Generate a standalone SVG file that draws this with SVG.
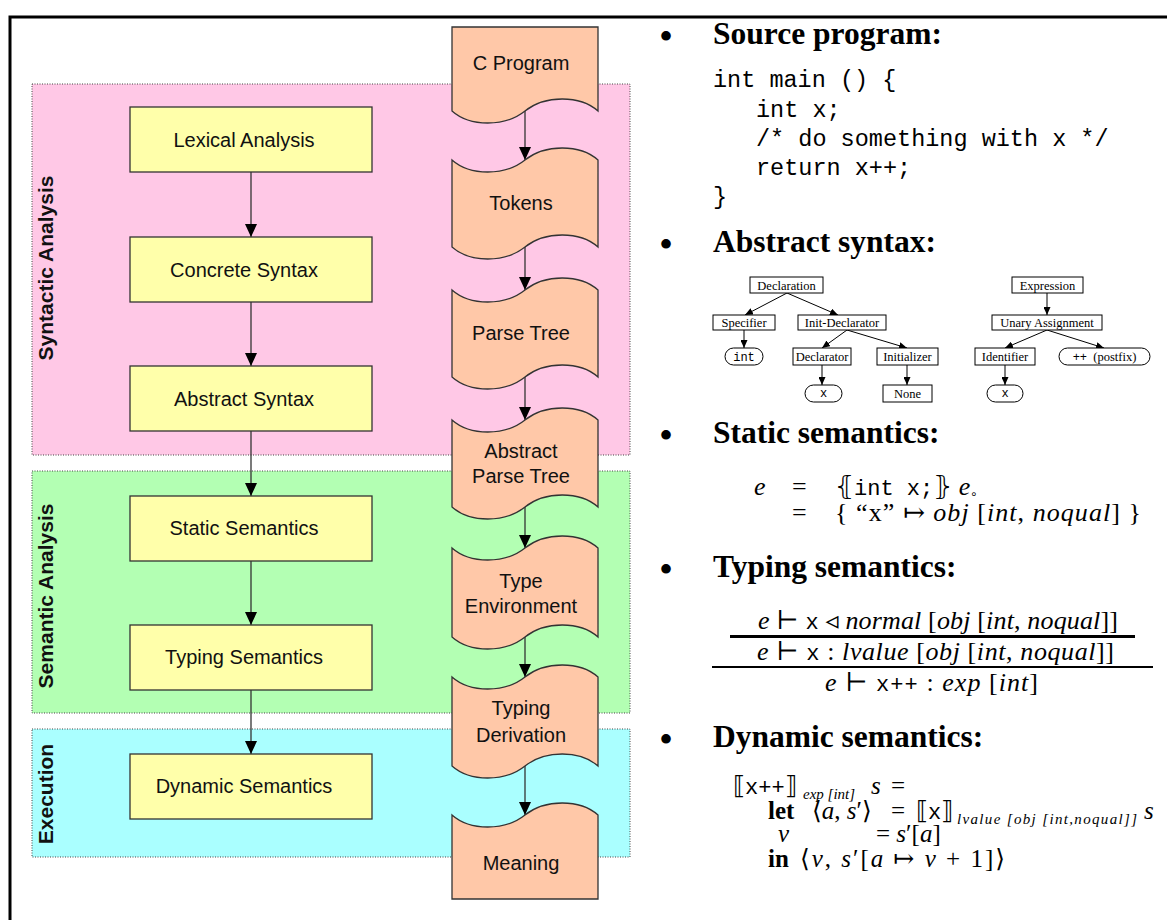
<svg xmlns="http://www.w3.org/2000/svg" width="1167" height="920" viewBox="0 0 1167 920">
<style>
.region{stroke:#444;stroke-width:1;stroke-dasharray:1 1.5}
.box{fill:#FFFFAA;stroke:#333;stroke-width:1.3}
.tape{fill:#FFC8A8;stroke:#333;stroke-width:1.3}
.lbl{font-family:"Liberation Sans",Arial,sans-serif;font-size:20px;text-anchor:middle;fill:#111}
.vlbl{font-family:"Liberation Sans",Arial,sans-serif;font-size:21px;font-weight:bold;text-anchor:middle;fill:#111}
.conn{stroke:#333;stroke-width:1.3;fill:none;marker-end:url(#ah)}
.head{font-family:"Liberation Serif","Times New Roman",serif;font-weight:bold;font-size:31.5px}
.bul{font-family:"Liberation Serif","Times New Roman",serif;font-size:40px;text-anchor:middle}
.code{font-family:"Liberation Mono","Courier New",monospace;font-size:23.5px}
.tn{fill:#fff;stroke:#000;stroke-width:1}
.tt{font-family:"Liberation Serif","Times New Roman",serif;font-size:12.5px;text-anchor:middle}
.tm{font-family:"Liberation Mono","Courier New",monospace;font-size:12px;text-anchor:middle}
.tconn{stroke:#000;stroke-width:1;fill:none;marker-end:url(#ah2)}
.m{font-family:"Liberation Serif","DejaVu Serif",serif;font-size:26px}
.d{font-family:"Liberation Serif","DejaVu Serif",serif;font-size:25px}
.i{font-style:italic}
.mono{font-family:"Liberation Mono","DejaVu Sans Mono",monospace;font-size:22px}
.b{font-weight:bold}
.sub{font-family:"Liberation Serif","DejaVu Serif",serif;font-size:15px;font-style:italic}
</style>
<defs>
<marker id="ah" viewBox="0 -6 13 12" refX="13" refY="0" markerWidth="13" markerHeight="12" markerUnits="userSpaceOnUse" orient="auto"><path d="M0,-6 L13,0 L0,6 Z" fill="#000"/></marker>
<marker id="ah2" viewBox="0 -3.5 8 7" refX="8" refY="0" markerWidth="8" markerHeight="7" markerUnits="userSpaceOnUse" orient="auto"><path d="M0,-3.5 L8,0 L0,3.5 Z" fill="#000"/></marker>
</defs>
<rect width="1167" height="920" fill="#fff"/>
<path d="M10,920 V17 H1167" stroke="#000" stroke-width="3" fill="none"/>

<g id="regions">
<rect class="region" x="32" y="84" width="598" height="371" fill="#FFC8E6"/>
<rect class="region" x="32" y="471" width="598" height="242" fill="#B3FFB3"/>
<rect class="region" x="32" y="729" width="598" height="128" fill="#AAFFFF"/>
<text class="vlbl" transform="translate(53,268) rotate(-90)">Syntactic Analysis</text>
<text class="vlbl" transform="translate(53,596) rotate(-90)">Semantic Analysis</text>
<text class="vlbl" transform="translate(53,794) rotate(-90)">Execution</text>
</g>

<g id="connectors">
<line class="conn" x1="251" y1="172" x2="251" y2="237"/>
<line class="conn" x1="251" y1="302" x2="251" y2="366"/>
<line class="conn" x1="251" y1="431" x2="251" y2="496"/>
<line class="conn" x1="251" y1="561" x2="251" y2="625"/>
<line class="conn" x1="251" y1="690" x2="251" y2="754"/>
<line class="conn" x1="525" y1="111" x2="525" y2="160"/>
<line class="conn" x1="525" y1="247" x2="525" y2="290"/>
<line class="conn" x1="525" y1="377" x2="525" y2="420"/>
<line class="conn" x1="525" y1="507" x2="525" y2="548"/>
<line class="conn" x1="525" y1="637" x2="525" y2="677"/>
<line class="conn" x1="525" y1="766" x2="525" y2="815"/>
</g>

<g id="lexical"><rect class="box" x="130" y="107" width="242" height="65"/><text class="lbl" x="244" y="147">Lexical Analysis</text></g>
<g id="concrete"><rect class="box" x="130" y="237" width="242" height="65"/><text class="lbl" x="244" y="277">Concrete Syntax</text></g>
<g id="abstract"><rect class="box" x="130" y="366" width="242" height="65"/><text class="lbl" x="244" y="406">Abstract Syntax</text></g>
<g id="static"><rect class="box" x="130" y="496" width="242" height="65"/><text class="lbl" x="244" y="535">Static Semantics</text></g>
<g id="typing"><rect class="box" x="130" y="625" width="242" height="65"/><text class="lbl" x="244" y="664">Typing Semantics</text></g>
<g id="dynamic"><rect class="box" x="130" y="754" width="242" height="65"/><text class="lbl" x="244" y="793">Dynamic Semantics</text></g>

<g id="cprogram"><path class="tape" d="M452,27 H598 V111 C580,95 545,95 525,111 S470,127 452,111 Z"/><text class="lbl" x="521" y="70">C Program</text></g>
<g id="tokens"><path class="tape" d="M452,160 C470,176 505,176 525,160 S580,144 598,160 L598,247 C580,231 545,231 525,247 S470,263 452,247 Z"/><text class="lbl" x="521" y="210">Tokens</text></g>
<g id="parsetree"><path class="tape" d="M452,290 C470,306 505,306 525,290 S580,274 598,290 L598,377 C580,361 545,361 525,377 S470,393 452,377 Z"/><text class="lbl" x="521" y="340">Parse Tree</text></g>
<g id="apt"><path class="tape" d="M452,420 C470,436 505,436 525,420 S580,404 598,420 L598,507 C580,491 545,491 525,507 S470,523 452,507 Z"/><text class="lbl" x="521" y="458">Abstract</text><text class="lbl" x="521" y="483">Parse Tree</text></g>
<g id="typeenv"><path class="tape" d="M452,548 C470,564 505,564 525,548 S580,532 598,548 L598,637 C580,621 545,621 525,637 S470,653 452,637 Z"/><text class="lbl" x="521" y="588">Type</text><text class="lbl" x="521" y="613">Environment</text></g>
<g id="typingderiv"><path class="tape" d="M452,677 C470,693 505,693 525,677 S580,661 598,677 L598,766 C580,750 545,750 525,766 S470,782 452,766 Z"/><text class="lbl" x="521" y="715">Typing</text><text class="lbl" x="521" y="742">Derivation</text></g>
<g id="meaning"><path class="tape" d="M452,815 C470,831 505,831 525,815 S580,799 598,815 V899 H452 Z"/><text class="lbl" x="521" y="870">Meaning</text></g>

<g id="source">
<text class="bul" x="666" y="50">•</text><text class="head" x="713" y="44">Source program:</text>
<text class="code" x="713" y="87">int main () {</text>
<text class="code" x="756" y="117">int x;</text>
<text class="code" x="756" y="146">/* do something with x */</text>
<text class="code" x="756" y="175">return x++;</text>
<text class="code" x="713" y="204">}</text>
</g>

<g id="abstractsyntax">
<text class="bul" x="666" y="258">•</text><text class="head" x="713" y="252">Abstract syntax:</text>
<g class="tconns">
<line class="tconn" x1="787" y1="293" x2="745" y2="315"/>
<line class="tconn" x1="787" y1="293" x2="838" y2="315"/>
<line class="tconn" x1="744" y1="330" x2="744" y2="348"/>
<line class="tconn" x1="847" y1="330" x2="822" y2="348"/>
<line class="tconn" x1="847" y1="330" x2="907" y2="348"/>
<line class="tconn" x1="822" y1="365" x2="822" y2="385"/>
<line class="tconn" x1="907" y1="365" x2="907" y2="385"/>
<line class="tconn" x1="1047" y1="293" x2="1047" y2="315"/>
<line class="tconn" x1="1047" y1="330" x2="1005" y2="348"/>
<line class="tconn" x1="1047" y1="330" x2="1104" y2="348"/>
<line class="tconn" x1="1005" y1="365" x2="1005" y2="385"/>
</g>
<g id="t-declaration"><rect class="tn" x="750" y="277" width="73" height="16"/><text class="tt" x="786.5" y="289.5">Declaration</text></g>
<g id="t-specifier"><rect class="tn" x="713" y="315" width="62" height="15"/><text class="tt" x="744" y="327">Specifier</text></g>
<g id="t-initdecl"><rect class="tn" x="798" y="315" width="88" height="15"/><text class="tt" x="842" y="327">Init-Declarator</text></g>
<g id="t-int"><rect class="tn" x="725" y="348" width="38" height="17" rx="8.5"/><text class="tm" x="744" y="361">int</text></g>
<g id="t-declarator"><rect class="tn" x="793" y="348" width="58" height="17"/><text class="tt" x="822" y="361">Declarator</text></g>
<g id="t-initializer"><rect class="tn" x="877" y="348" width="61" height="17"/><text class="tt" x="907.5" y="361">Initializer</text></g>
<g id="t-x1"><rect class="tn" x="805" y="385" width="37" height="17" rx="8.5"/><text class="tm" x="823.5" y="397">x</text></g>
<g id="t-none"><rect class="tn" x="883" y="385" width="49" height="17"/><text class="tt" x="907.5" y="398">None</text></g>
<g id="t-expression"><rect class="tn" x="1012" y="277" width="71" height="16"/><text class="tt" x="1047.5" y="289.5">Expression</text></g>
<g id="t-unary"><rect class="tn" x="992" y="315" width="110" height="15"/><text class="tt" x="1047" y="327">Unary Assignment</text></g>
<g id="t-identifier"><rect class="tn" x="975" y="348" width="60" height="17"/><text class="tt" x="1005" y="361">Identifier</text></g>
<g id="t-postfix"><rect class="tn" x="1059" y="348" width="91" height="17" rx="8.5"/><text class="tt" x="1104.5" y="361" xml:space="preserve"><tspan font-family="Liberation Mono, monospace" font-size="12px">++</tspan>  (postfix)</text></g>
<g id="t-x2"><rect class="tn" x="987" y="385" width="36" height="17" rx="8.5"/><text class="tm" x="1005" y="397">x</text></g>
</g>

<g id="staticsem">
<text class="bul" x="666" y="449">•</text><text class="head" x="713" y="443">Static semantics:</text>
<text class="m" y="495"><tspan x="754" class="i">e</tspan><tspan x="792">=</tspan><tspan x="835">⦃</tspan><tspan class="mono">int x;</tspan><tspan>⦄ </tspan><tspan class="i">e</tspan></text>
<text x="970" y="498" font-family="DejaVu Sans, sans-serif" font-size="12">∘</text>
<text class="m" x="792" y="521">=</text>
<text class="m" x="835" y="521" textLength="306">{ “x” ↦ <tspan class="i">obj</tspan> [<tspan class="i">int</tspan>, <tspan class="i">noqual</tspan>] }</text>
</g>

<g id="typingsem">
<text class="bul" x="666" y="583">•</text><text class="head" x="713" y="577">Typing semantics:</text>
<text class="m" x="758" y="629" textLength="360"><tspan class="i">e</tspan> ⊢ <tspan class="mono">x</tspan> ◃ <tspan class="i">normal</tspan> [<tspan class="i">obj</tspan> [<tspan class="i">int</tspan>, <tspan class="i">noqual</tspan>]]</text>
<line x1="730" y1="636.5" x2="1135" y2="636.5" stroke="#000" stroke-width="3"/>
<text class="m" x="757" y="660" textLength="357"><tspan class="i">e</tspan> ⊢ <tspan class="mono">x</tspan> : <tspan class="i">lvalue</tspan> [<tspan class="i">obj</tspan> [<tspan class="i">int</tspan>, <tspan class="i">noqual</tspan>]]</text>
<line x1="712" y1="667" x2="1153" y2="667" stroke="#000" stroke-width="2"/>
<text class="m" x="825" y="691" textLength="213"><tspan class="i">e</tspan> ⊢ <tspan class="mono">x++</tspan> : <tspan class="i">exp</tspan> [<tspan class="i">int</tspan>]</text>
</g>

<g id="dynamicsem">
<text class="bul" x="666" y="753">•</text><text class="head" x="713" y="747">Dynamic semantics:</text>
<text class="d" x="733" y="794">⟦<tspan class="mono">x++</tspan>⟧</text>
<text class="sub" x="803" y="799">exp [int]</text>
<text class="d i" x="871" y="794">s</text>
<text class="d" x="891" y="794">=</text>
<text class="d b" x="768" y="819">let</text>
<text class="d" x="812" y="819">⟨<tspan class="i">a</tspan>, <tspan class="i">s</tspan>′⟩</text>
<text class="d" x="891" y="819">=</text>
<text class="d" x="916" y="819">⟦<tspan class="mono">x</tspan>⟧</text>
<text class="sub" x="957" y="824" textLength="180">lvalue [obj [int,noqual]]</text>
<text class="d i" x="1144" y="819">s</text>
<text class="d i" x="778" y="842">v</text>
<text class="d" x="876" y="842">= <tspan class="i">s</tspan>′[<tspan class="i">a</tspan>]</text>
<text class="d b" x="768" y="867">in</text>
<text class="d" x="800" y="867" textLength="205">⟨<tspan class="i">v</tspan>, <tspan class="i">s</tspan>′[<tspan class="i">a</tspan> ↦ <tspan class="i">v</tspan> + 1]⟩</text>
</g>
</svg>
